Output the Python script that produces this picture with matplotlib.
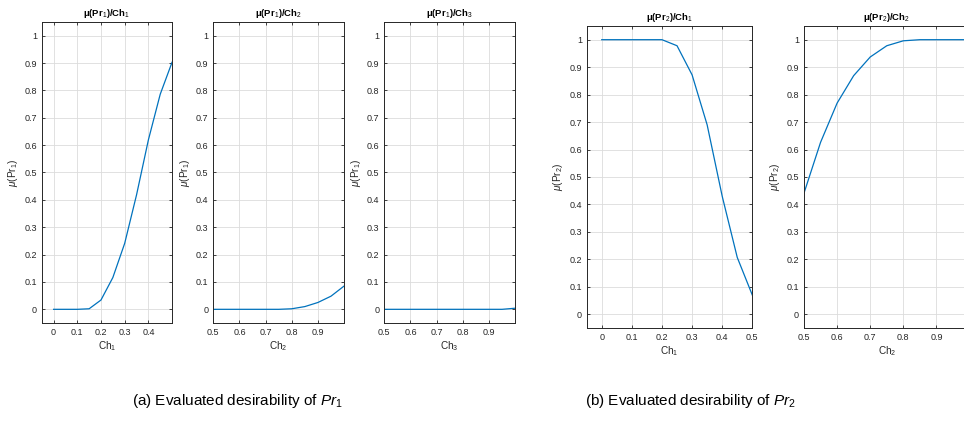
import numpy as np
import matplotlib
matplotlib.use('Agg')
import matplotlib.pyplot as plt
from matplotlib.ticker import FuncFormatter

plt.rcParams['font.family'] = ['Liberation Sans', 'DejaVu Sans']
plt.rcParams['mathtext.fontset'] = 'custom'
plt.rcParams['mathtext.rm'] = 'Liberation Sans'
plt.rcParams['mathtext.it'] = 'Liberation Sans:italic'
plt.rcParams['mathtext.bf'] = 'Liberation Sans:bold'

# --- data ---
ch1_x = [0, 0.05, 0.10, 0.15, 0.20, 0.25, 0.30, 0.35, 0.40, 0.45, 0.50]
ch23_x = [0.50, 0.55, 0.60, 0.65, 0.70, 0.75, 0.80, 0.85, 0.90, 0.95, 1.00]

pr1_ch1 = [0, 0, 0, 0.002, 0.034, 0.116, 0.241, 0.418, 0.619, 0.786, 0.903]
pr1_ch2 = [0, 0, 0, 0, 0, 0, 0.002, 0.010, 0.025, 0.048, 0.085]
pr1_ch3 = [0, 0, 0, 0, 0, 0, 0, 0, 0, 0, 0.004]
pr2_ch1 = [1, 1, 1, 1, 1, 0.978, 0.872, 0.690, 0.430, 0.207, 0.070]
pr2_ch2 = [0.441, 0.626, 0.769, 0.869, 0.937, 0.978, 0.996, 1.0, 1.0, 1.0, 1.0]

ch1_ticks = [0, 0.1, 0.2, 0.3, 0.4]
ch1_ticks_b = [0, 0.1, 0.2, 0.3, 0.4, 0.5]
ch23_ticks = [0.5, 0.6, 0.7, 0.8, 0.9]
y_ticks = [0, 0.1, 0.2, 0.3, 0.4, 0.5, 0.6, 0.7, 0.8, 0.9, 1.0]

panels = [
    # rect, x, y, xlim, xticks, title, xlabel, ylabel
    ([0.0433, 0.2364, 0.1352, 0.7116], ch1_x, pr1_ch1, (-0.05, 0.5), ch1_ticks,
     r'$\mathbf{\mu}$(Pr$_1$)/Ch$_1$', r'Ch$_1$', r'$\mu$(Pr$_1$)'),
    ([0.2213, 0.2364, 0.1356, 0.7116], ch23_x, pr1_ch2, (0.5, 1.0), ch23_ticks,
     r'$\mathbf{\mu}$(Pr$_1$)/Ch$_2$', r'Ch$_2$', r'$\mu$(Pr$_1$)'),
    ([0.3987, 0.2364, 0.1356, 0.7116], ch23_x, pr1_ch3, (0.5, 1.0), ch23_ticks,
     r'$\mathbf{\mu}$(Pr$_1$)/Ch$_3$', r'Ch$_3$', r'$\mu$(Pr$_1$)'),
    ([0.6086, 0.2246, 0.1718, 0.714], ch1_x, pr2_ch1, (-0.05, 0.5), ch1_ticks_b,
     r'$\mathbf{\mu}$(Pr$_2$)/Ch$_1$', r'Ch$_1$', r'$\mu$(Pr$_2$)'),
    ([0.834, 0.2246, 0.1718, 0.714], ch23_x, pr2_ch2, (0.5, 1.0), ch23_ticks,
     r'$\mathbf{\mu}$(Pr$_2$)/Ch$_2$', r'Ch$_2$', r'$\mu$(Pr$_2$)'),
]

dark = '#262626'
fmt = FuncFormatter(lambda v, p: f'{v:g}')

fig = plt.figure(figsize=(9.64, 4.23), dpi=100)

for rect, x, y, xlim, xticks, title, xlabel, ylabel in panels:
    ax = fig.add_axes(rect)
    ax.plot(x, y, color='#0072BD', linewidth=0.9, clip_on=True)
    ax.set_xlim(*xlim)
    ax.set_ylim(-0.05, 1.05)
    ax.set_xticks(xticks)
    ax.set_yticks(y_ticks)
    ax.xaxis.set_major_formatter(fmt)
    ax.yaxis.set_major_formatter(fmt)
    ax.grid(True, color='#dcdcdc', linewidth=0.6)
    ax.set_axisbelow(True)
    ax.tick_params(direction='in', top=True, right=True, length=2.5, width=0.6,
                   labelsize=6.5, colors=dark, pad=3.5)
    for s in ax.spines.values():
        s.set_color(dark)
        s.set_linewidth(0.7)
    ax.set_title(title, fontsize=6.8, fontweight='bold', color='black', pad=4)
    ax.set_xlabel(xlabel, fontsize=7.2, color=dark, labelpad=2)
    ax.set_ylabel(ylabel, fontsize=7.2, color=dark, labelpad=3)

fig.text(0.246, 0.052, r'(a) Evaluated desirability of $\mathit{Pr}_1$', ha='center', va='center',
         fontsize=11, color='black')
fig.text(0.716, 0.052, r'(b) Evaluated desirability of $\mathit{Pr}_2$', ha='center', va='center',
         fontsize=11, color='black')

fig.savefig('out.png', dpi=100)
